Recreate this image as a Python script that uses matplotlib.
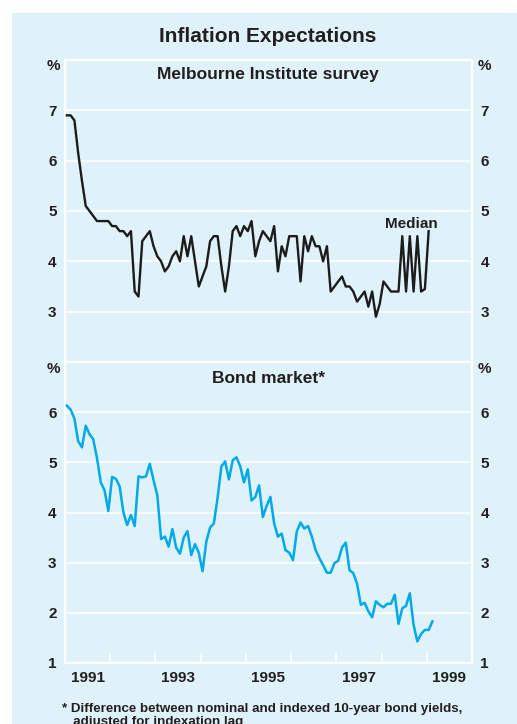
import matplotlib
matplotlib.use("Agg")
import matplotlib.pyplot as plt
from matplotlib.patches import Rectangle
import numpy as np

plt.rcParams['font.family'] = ['Liberation Sans', 'DejaVu Sans']
plt.rcParams['font.weight'] = 'bold'

# ---------------- data ----------------
start_year = 1991
survey_median = [6.9, 6.9, 6.8, 6.15, 5.6, 5.1, 5.0, 4.9, 4.8, 4.8, 4.8, 4.8,
                 4.7, 4.7, 4.6, 4.6, 4.5, 4.6, 3.4, 3.3, 4.4, 4.5, 4.6, 4.3,
                 4.1, 4.0, 3.8, 3.9, 4.1, 4.2, 4.0, 4.5, 4.1, 4.5, 4.0, 3.5,
                 3.7, 3.9, 4.4, 4.5, 4.5, 3.9, 3.4, 3.9, 4.6, 4.7, 4.5, 4.7,
                 4.6, 4.8, 4.1, 4.4, 4.6, 4.5, 4.4, 4.7, 3.8, 4.3, 4.1, 4.5,
                 4.5, 4.5, 3.6, 4.5, 4.2, 4.5, 4.3, 4.3, 4.0, 4.3, 3.4, 3.5,
                 3.6, 3.7, 3.5, 3.5, 3.4, 3.2, 3.3, 3.4, 3.1, 3.4, 2.9, 3.15,
                 3.6, 3.5, 3.4, 3.4, 3.4, 4.5, 3.4, 4.5, 3.4, 4.5, 3.4, 3.45,
                 4.6]
bond_market = [6.13, 6.05, 5.87, 5.42, 5.3, 5.73, 5.56, 5.46, 5.08, 4.6, 4.44, 4.03,
               4.71, 4.67, 4.52, 4.0, 3.75, 3.95, 3.73, 4.72, 4.7, 4.72, 4.97, 4.64,
               4.34, 3.47, 3.52, 3.32, 3.67, 3.3, 3.18, 3.5, 3.63, 3.15, 3.37, 3.2,
               2.83, 3.42, 3.7, 3.78, 4.3, 4.92, 5.02, 4.66, 5.04, 5.1, 4.92, 4.6,
               4.86, 4.24, 4.31, 4.54, 3.91, 4.13, 4.31, 3.78, 3.52, 3.58, 3.25, 3.2,
               3.05, 3.62, 3.8, 3.68, 3.73, 3.52, 3.25, 3.09, 2.95, 2.8, 2.8, 2.99,
               3.04, 3.3, 3.4, 2.85, 2.79, 2.58, 2.16, 2.2, 2.03, 1.91, 2.23, 2.16,
               2.11, 2.18, 2.18, 2.36, 1.78, 2.09, 2.14, 2.39, 1.76, 1.43, 1.58, 1.66,
               1.66, 1.83]
year_labels = ['1991', '1993', '1995', '1997', '1999']
top_yticks = [3, 4, 5, 6, 7]
bottom_yticks = [1, 2, 3, 4, 5, 6]

x_survey = start_year + (np.arange(len(survey_median)) + 0.5) / 12
x_bond = start_year + (np.arange(len(bond_market)) + 0.5) / 12

# ---------------- style ----------------
BG = '#DFF2FA'
TXT = '#231f20'
W, H = 517, 724
fig = plt.figure(figsize=(W / 100, H / 100), dpi=100)
fig.patch.set_facecolor('white')
fig.patches.append(Rectangle((12 / W, 0), 1, (H - 13) / H, transform=fig.transFigure,
                             facecolor=BG, edgecolor='none', zorder=-10))

left, right = 65 / W, 472 / W
ax1 = fig.add_axes([left, 1 - 362 / H, right - left, (362 - 60) / H])
ax2 = fig.add_axes([left, 1 - 663 / H, right - left, (663 - 362) / H])


def style(ax, ylim, yticks):
    ax.set_facecolor(BG)
    ax.set_xlim(1991, 2000)
    ax.set_ylim(*ylim)
    for s in ax.spines.values():
        s.set_color('white')
        s.set_linewidth(1.6)
    ax.set_yticks(yticks)
    ax.set_yticklabels([str(t) for t in yticks])
    ax.tick_params(axis='y', length=0, pad=6, labelsize=11, labelcolor=TXT,
                   labelleft=True, labelright=True)
    ax.grid(axis='y', color='white', linewidth=1.2)
    ax.set_axisbelow(True)


style(ax1, (2, 8), top_yticks)
style(ax2, (1, 7), bottom_yticks)

ax1.set_xticks([])
ax2.set_xticks(np.arange(1992, 2000))
ax2.set_xticklabels([])
ax2.tick_params(axis='x', which='major', direction='in', length=7.5, width=1.2,
                color='white')
ax2.set_xticks([int(y) + 0.5 for y in year_labels], minor=True)
ax2.set_xticklabels(year_labels, minor=True)
ax2.tick_params(axis='x', which='minor', length=0, pad=6, labelsize=11,
                labelcolor=TXT)

ax1.plot(x_survey, survey_median, color='#1c1c1c', linewidth=1.7, zorder=3)
ax2.plot(x_bond, bond_market, color='#00A9E8', linewidth=1.8, zorder=3)

ax1.text(1998.07, 4.6, 'Median', ha='left', va='bottom', fontsize=11,
         color=TXT, fontweight='bold')

# titles and labels
fig.text(268 / W, 1 - 36 / H, 'Inflation Expectations', ha='center', va='center',
         fontsize=15, fontweight='bold', color=TXT)
fig.text(268 / W, 1 - 74 / H, 'Melbourne Institute survey', ha='center',
         va='center', fontsize=12.5, fontweight='bold', color=TXT)
fig.text(268 / W, 1 - 378 / H, 'Bond market*', ha='center', va='center',
         fontsize=12.5, fontweight='bold', color=TXT)
for yy in (66, 369):
    fig.text(53 / W, 1 - yy / H, '%', ha='center', va='center', fontsize=11,
             fontweight='bold', color=TXT)
    fig.text(484 / W, 1 - yy / H, '%', ha='center', va='center', fontsize=11,
             fontweight='bold', color=TXT)

fig.text(62 / W, 1 - 703 / H,
         '* Difference between nominal and indexed 10-year bond yields,\n'
         '   adjusted for indexation lag',
         ha='left', va='top', fontsize=9.6, fontweight='bold', color=TXT,
         linespacing=1.1)

fig.savefig('out.png', dpi=100, facecolor='white')
